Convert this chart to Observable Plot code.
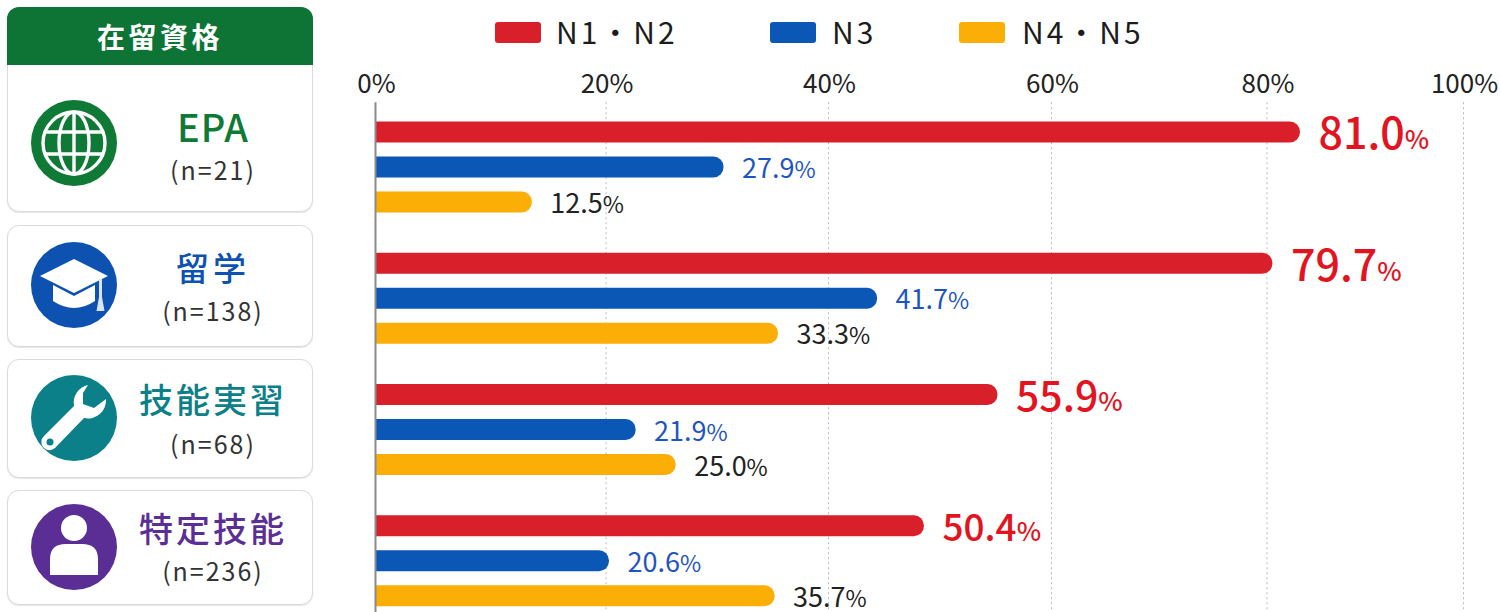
<!DOCTYPE html>
<html lang="ja">
<head>
<meta charset="utf-8">
<script src="https://cdn.jsdelivr.net/npm/d3@7"></script>
<script src="https://cdn.jsdelivr.net/npm/@observablehq/plot@0.6"></script>
<style>
html,body{margin:0;padding:0;background:#fff;}
#page{position:relative;width:1500px;height:612px;overflow:hidden;font-family:"Noto Sans CJK JP","Noto Sans",sans-serif;color:#222;}
#chart{position:absolute;left:0;top:0;}
.card{position:absolute;left:7px;width:306px;box-sizing:border-box;border:1.5px solid #d9dbdb;border-radius:12px;background:#fff;box-shadow:0 1px 1px #e6e6e6;}
.head{position:absolute;left:7px;top:7px;width:306px;height:58px;background:#0d7436;border-radius:12px 12px 0 0;color:#fff;font-size:28px;font-weight:700;line-height:58px;text-align:center;letter-spacing:3.5px;}
.icon{position:absolute;left:31px;width:86px;height:86px;}
.name{position:absolute;left:113px;width:200px;text-align:center;font-weight:500;white-space:nowrap;}
.n{position:absolute;left:113px;width:200px;text-align:center;font-size:25px;color:#333;white-space:nowrap;letter-spacing:2px;}
.sw{position:absolute;top:22px;width:46px;height:21px;border-radius:3px;}
.lg{position:absolute;top:8px;font-size:30px;line-height:46px;white-space:nowrap;color:#1c1c1c;letter-spacing:3px;}
</style>
</head>
<body>
<div id="page"><div id="chart"></div></div>
<script>
// ---------- data ----------
const groups = ["EPA", "留学", "技能実習", "特定技能"];
const groupN = ["(n=21)", "(n=138)", "(n=68)", "(n=236)"];
const series = ["N1・N2", "N3", "N4・N5"];
const printedN1N2 = ["81.0", "79.7", "55.9", "50.4"];
const printedN3 = ["27.9", "41.7", "21.9", "20.6"];
const printedN4N5 = ["12.5", "33.3", "25.0", "35.7"];
// bar ends as drawn, read against the axis (the picture's bars do not sit exactly at the printed figures)
const reachN1N2 = [83.4, 80.6, 55.2, 48.6];
const reachN3 = [30.6, 44.4, 22.7, 20.3];
const reachN4N5 = [13.6, 35.5, 26.3, 35.2];
const axisTicks = [0, 20, 40, 60, 80, 100];

// ---------- styles ----------
const seriesColor = ["#d91f2a", "#0b57b6", "#fbae05"];
const labelColor = ["#e2141f", "#1f55c0", "#222222"];
const groupColor = ["#0f7a36", "#0d52b0", "#0c8088", "#5b2e96"];
const bigLabelSize = [43, 43, 41, 37];
const rowsPerGroup = 3.75;

const printed = [printedN1N2, printedN3, printedN4N5];
const reach = [reachN1N2, reachN3, reachN4N5];
const rows = groups.flatMap((g, gi) => series.map((s, si) => ({
  g, gi, s, si,
  row: gi * rowsPerGroup + si,
  reach: reach[si][gi],
  label: printed[si][gi] + "%"
})));

const chart = Plot.plot({
  width: 1500, height: 612,
  marginTop: 100, marginBottom: 0, marginLeft: 375, marginRight: 37,
  style: {background: "transparent", fontFamily: '"Noto Sans CJK JP","Noto Sans",sans-serif'},
  x: {type: "linear", domain: axisTicks, range: [375, 605.6, 828, 1051, 1266.5, 1463]},
  y: {type: "linear", domain: [-0.914, 13.714], range: [100, 612], axis: null},
  color: {domain: series, range: seriesColor},
  marks: [
    Plot.ruleX(axisTicks.slice(1), {y1: -0.85, y2: 13.714, stroke: "#b9b9b9", strokeWidth: 1, strokeDasharray: "2 3"}),
    Plot.axisX({anchor: "top", ticks: axisTicks, tickFormat: d => d + "%", tickSize: 0, tickPadding: 8, fontSize: 26, dx: 1, label: null, color: "#222", textStroke: "none"}),
    Plot.rect(rows, {x1: () => -1, x2: "reach", y1: d => d.row - 0.3, y2: d => d.row + 0.3, fill: "s", rx: 10, clip: true}),
    Plot.ruleX([0], {y1: -0.85, y2: 13.714, stroke: "#8a8a8a", strokeWidth: 2}),
    Plot.text(rows.filter(d => d.si === 0), {
      x: "reach", y: "row", text: "label", dx: 18, dy: 3,
      textAnchor: "start", lineAnchor: "middle",
      fill: d => labelColor[d.si], fontWeight: 500,
      fontSize: d => bigLabelSize[d.gi]
    }),
    Plot.text(rows.filter(d => d.si > 0), {
      x: "reach", y: "row", text: "label", dx: 18, dy: 2,
      textAnchor: "start", lineAnchor: "middle",
      fill: d => labelColor[d.si], fontWeight: 400,
      fontSize: 27
    })
  ]
});
document.getElementById("chart").appendChild(chart);

// smaller percent sign in value labels
chart.querySelectorAll('g[aria-label="text"] text').forEach(t => {
  const v = t.textContent;
  if (!v.endsWith("%")) return;
  const big = parseFloat(t.getAttribute("font-size")) > 30;
  t.textContent = v.slice(0, -1);
  const ts = document.createElementNS("http://www.w3.org/2000/svg", "tspan");
  ts.textContent = "%";
  ts.setAttribute("font-size", big ? 26 : 23);
  t.appendChild(ts);
});

// ---------- left panel and legend ----------
const page = document.getElementById("page");
const el = (cls, css, html) => {
  const d = document.createElement("div");
  d.className = cls; d.style.cssText = css; if (html != null) d.innerHTML = html;
  page.appendChild(d); return d;
};
const icons = [
  c => `<circle r="43" fill="${c}"/><g fill="none" stroke="#fff" stroke-width="3.4"><circle r="31"/><ellipse rx="15" ry="31"/><path d="M0-31V31M-29-11H29M-29 11H29"/></g>`,
  c => `<circle r="43" fill="${c}"/><path fill="#fff" d="M0-26L34-9 0 8-34-9Z"/><path fill="#fff" d="M-21 0L0 11 21 0V16Q0 30-21 16Z"/><path fill="#d9e4f4" d="M25-6h3V12l2.500 14h-8l2.500-14Z"/>`,
  c => `<circle r="43" fill="${c}"/><path fill="#fff" d="M14-33A18 18 0 0 0 0-12L-30 18A8 8 0 0 0-19 30L10 0A18 18 0 0 0 32-19L20-10 9-14 9-25Z"/><circle cx="-24" cy="24" r="3.500" fill="${c}"/>`,
  c => `<circle r="43" fill="${c}"/><circle cy="-19" r="13" fill="#fff"/><path fill="#fff" d="M-24 28V12Q-24-3-8-3H8Q24-3 24 12V28Z"/>`
];
const cardTop = [7, 225, 359, 490], cardH = [205, 122, 119, 115];
const iconTop = [100, 242, 375, 504];
const nameTop = [102, 243, 375, 504], nameSize = [38, 33, 34, 34], nameLs = [1, 4, 3, 3];
const nTop = [152, 293, 426, 553];
el("card", `top:${cardTop[0]}px;height:${cardH[0]}px`);
el("head", "", "在留資格");
groups.forEach((g, i) => {
  if (i > 0) el("card", `top:${cardTop[i]}px;height:${cardH[i]}px`);
  el("icon", `top:${iconTop[i]}px`, `<svg width="86" height="86" viewBox="-43 -43 86 86">${icons[i](groupColor[i])}</svg>`);
  el("name", `top:${nameTop[i]}px;font-size:${nameSize[i]}px;color:${groupColor[i]};letter-spacing:${nameLs[i]}px;line-height:48px`, g);
  el("n", `top:${nTop[i]}px;line-height:34px`, groupN[i]);
});
const swX = [495, 770, 959], lgX = [556, 832, 1022];
series.forEach((s, i) => {
  el("sw", `left:${swX[i]}px;background:${seriesColor[i]}`);
  el("lg", `left:${lgX[i]}px`, s);
});
</script>
</body>
</html>
